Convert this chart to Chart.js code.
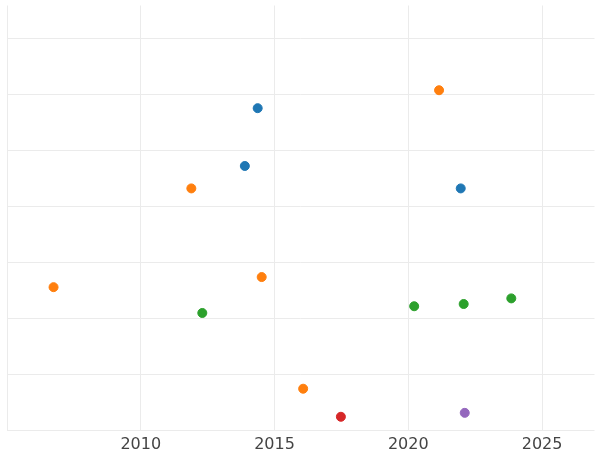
<!DOCTYPE html>
<html><head><meta charset="utf-8">
<script src="https://cdn.jsdelivr.net/npm/chart.js@4"></script>
<style>html,body{margin:0;padding:0;background:#fff}#w{width:600px;height:450px}</style>
</head><body><div id="w"><canvas id="c"></canvas></div>
<script>
const xTicks = [2005, 2010, 2015, 2020, 2025];
const seriesColors = ['#1f77b4', '#ff7f0e', '#2ca02c', '#d62728', '#9467bd'];
const blueX = [2014.37, 2013.89, 2021.96];
const blueY = [5.75, 4.72, 4.32];
const orangeX = [2021.15, 2011.89, 2006.74, 2014.52, 2016.07];
const orangeY = [6.07, 4.32, 2.56, 2.74, 0.75];
const greenX = [2012.30, 2020.22, 2022.07, 2023.85];
const greenY = [2.10, 2.22, 2.26, 2.36];
const redX = [2017.48];
const redY = [0.25];
const purpleX = [2022.11];
const purpleY = [0.32];
const groups = [[blueX, blueY], [orangeX, orangeY], [greenX, greenY], [redX, redY], [purpleX, purpleY]];
new Chart(document.getElementById('c'), {
  type: 'scatter',
  data: { datasets: groups.map((g, i) => ({
    data: g[0].map((x, j) => ({x, y: g[1][j]})),
    backgroundColor: seriesColors[i], borderColor: seriesColors[i],
    pointRadius: 4.5, pointHoverRadius: 4.5
  })) },
  options: {
    responsive: true, maintainAspectRatio: false, animation: false,
    layout: { padding: { left: 7, right: -6, top: -5, bottom: -8 } },
    plugins: { legend: { display: false }, tooltip: { enabled: false } },
    scales: {
      x: { type: 'linear', min: 2005, max: 2026.96,
        afterBuildTicks: a => { a.ticks = xTicks.map(v => ({value: v})); },
        grid: { color: '#ebebeb', drawTicks: false },
        border: { display: false },
        ticks: { color: '#444', font: { family: 'DejaVu Sans', size: 16 }, padding: 4,
          callback: v => v === 2005 ? '' : String(v) } },
      y: { min: 0, max: 7.58,
        afterBuildTicks: a => { a.ticks = [0,1,2,3,4,5,6,7].map(v => ({value: v})); },
        grid: { color: '#ebebeb', drawTicks: false },
        border: { display: false },
        ticks: { display: false } }
    }
  }
});
</script></body></html>
